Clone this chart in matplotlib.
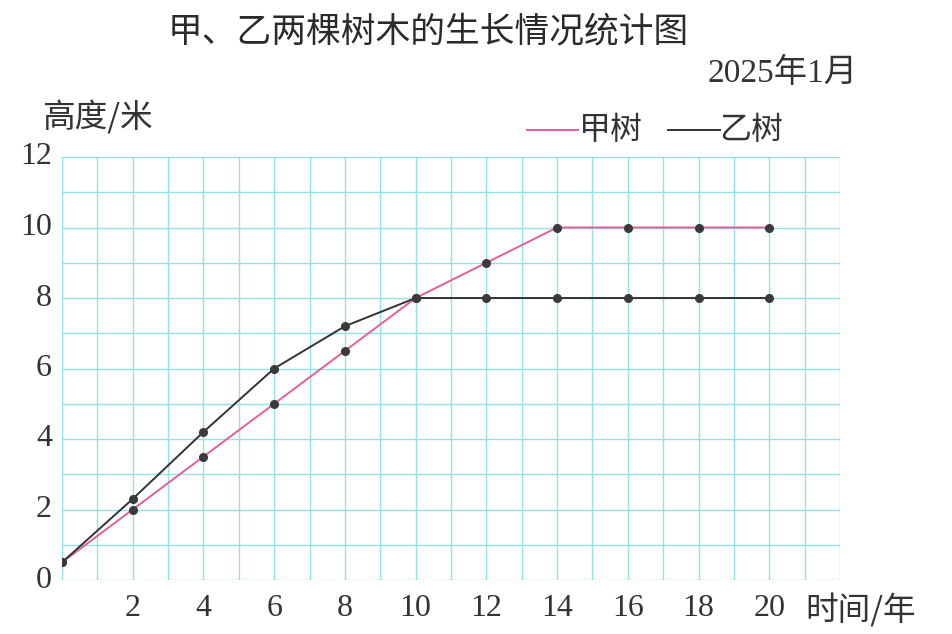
import matplotlib
matplotlib.use("Agg")
import matplotlib.pyplot as plt
import numpy as np

years = [0, 2, 4, 6, 8, 10, 12, 14, 16, 18, 20]
tree_jia = [0.5, 2, 3.5, 5, 6.5, 8, 9, 10, 10, 10, 10]
tree_yi = [0.5, 2.3, 4.2, 6, 7.2, 8, 8, 8, 8, 8, 8]
x_ticks = [2, 4, 6, 8, 10, 12, 14, 16, 18, 20]
y_ticks = [0, 2, 4, 6, 8, 10, 12]

CJK = ['Noto Sans CJK SC', 'DejaVu Sans']
SERIF = ['Liberation Serif', 'Noto Sans CJK SC']
TXT = '#333333'
GRID = '#93e2e6'

fig = plt.figure(figsize=(9.53, 6.34), dpi=100)
ax = fig.add_axes([62/953, (634-580)/634, (840-62)/953, (580-157)/634])
ax.set_xlim(0, 22)
ax.set_ylim(0, 12)

ax.set_xticks(np.arange(0, 23, 1))
ax.set_yticks(np.arange(0, 13, 1))
ax.grid(True, color=GRID, linewidth=1.0)
ax.set_axisbelow(True)
for s in ax.spines.values():
    s.set_visible(False)
ax.tick_params(length=0, labelbottom=False, labelleft=False)

ax.plot(years, tree_jia, color='#e0609a', linewidth=1.4, marker='o',
        markersize=5.5, markerfacecolor='#3a3a3a', markeredgecolor='#3a3a3a', zorder=3)
ax.plot(years, tree_yi, color='#333333', linewidth=1.4, marker='o',
        markersize=5.5, markerfacecolor='#3a3a3a', markeredgecolor='#3a3a3a', zorder=4)

for v in y_ticks:
    ax.text(-0.28, v, str(v), ha='right', va='center', fontsize=23,
            family=SERIF, color=TXT)
for v in x_ticks:
    ax.text(v, -0.8, str(v), ha='center', va='center', fontsize=23,
            family=SERIF, color=TXT)

fig.text(428/953, 1-32/634, '甲、乙两棵树木的生长情况统计图', ha='center', va='center',
         fontsize=25, family=CJK, color='#2a2a2a')
fig.text(858/953, 1-73/634, '2025年1月', ha='right', va='center', fontsize=24,
         family=SERIF, color=TXT)
fig.text(42/953, 1-117/634, '高度/米', ha='left', va='center', fontsize=23.5,
         family=CJK, color=TXT)
fig.text(805/953, 1-610/634, '时间/年', ha='left', va='center', fontsize=23.5,
         family=CJK, color=TXT)

# legend
fig.add_artist(plt.Line2D([527/953, 578/953], [1-130/634, 1-130/634],
                          color='#e0609a', linewidth=1.4))
fig.text(579/953, 1-130/634, '甲树', ha='left', va='center', fontsize=23,
         family=CJK, color=TXT)
fig.add_artist(plt.Line2D([668/953, 720/953], [1-130/634, 1-130/634],
                          color='#333333', linewidth=1.4))
fig.text(719/953, 1-130/634, '乙树', ha='left', va='center', fontsize=23,
         family=CJK, color=TXT)

fig.savefig('out.png', dpi=100)
